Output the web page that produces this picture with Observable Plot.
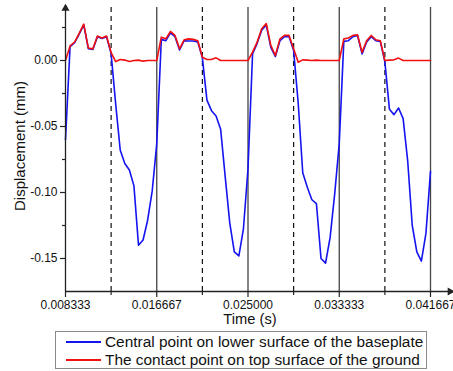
<!DOCTYPE html>
<html>
<head>
<meta charset="utf-8">
<script src="https://cdn.jsdelivr.net/npm/d3@7"></script>
<script src="https://cdn.jsdelivr.net/npm/@observablehq/plot@0.6"></script>
<style>
  html, body { margin: 0; padding: 0; background: #fff; }
  #wrap { position: relative; width: 453px; height: 371px; overflow: hidden; font-family: "Liberation Sans", Arial, sans-serif; }
  #legend { position: absolute; left: 55px; top: 331px; width: 370px; height: 36px; border: 1px solid #8a8a8a; background: #fff; }
  .row { position: absolute; left: 0; height: 18px; display: flex; align-items: center; font-size: 15.4px; color: #111; white-space: nowrap; }
  .sw { display: inline-block; width: 35px; height: 0; border-top: 2px solid; margin-left: 10px; margin-right: 4px; }
</style>
</head>
<body>
<div id="wrap"><div id="chart"></div><div id="legend"></div></div>
<script>
// Time (s)
const time = [0.008333,0.008750,0.009167,0.009583,0.010000,0.010417,0.010833,0.011250,0.011667,0.012083,
  0.012500,0.012917,0.013333,0.013750,0.014167,0.014583,0.015000,0.015417,0.015833,0.016250,
  0.016667,0.017083,0.017500,0.017917,0.018333,0.018750,0.019167,0.019583,0.020000,0.020417,
  0.020833,0.021250,0.021667,0.022083,0.022500,0.022917,0.023333,0.023750,0.024167,0.024583,
  0.025000,0.025417,0.025833,0.026250,0.026667,0.027083,0.027500,0.027917,0.028333,0.028750,
  0.029167,0.029583,0.030000,0.030417,0.030833,0.031250,0.031667,0.032083,0.032500,0.032917,
  0.033333,0.033750,0.034167,0.034583,0.035000,0.035417,0.035833,0.036250,0.036667,0.037083,
  0.037500,0.037917,0.038333,0.038750,0.039167,0.039583,0.040000,0.040417,0.040833,0.041250,
  0.041667];
// Central point on lower surface of the baseplate (mm)
const baseplate = [-0.060,0.0105,0.0136,0.020,0.027,0.009,0.0083,0.018,0.0167,0.018,
  0.005,-0.033,-0.068,-0.078,-0.083,-0.095,-0.140,-0.136,-0.121,-0.099,
  -0.063,0.016,0.015,0.021,0.018,0.008,0.015,0.0148,0.0148,0.014,
  0.002,-0.030,-0.038,-0.042,-0.052,-0.088,-0.123,-0.145,-0.148,-0.1275,
  -0.082,0.005,0.013,0.023,0.027,0.010,0.003,0.015,0.018,0.018,
  0.0075,-0.032,-0.085,-0.096,-0.1055,-0.1085,-0.150,-0.1535,-0.134,-0.101,
  -0.063,0.0145,0.015,0.018,0.019,0.005,0.014,0.018,0.015,0.0145,
  -0.001,-0.037,-0.041,-0.036,-0.044,-0.076,-0.125,-0.145,-0.152,-0.131,
  -0.084];
// Contact point on top surface of the ground (mm)
const ground = [0.000,0.011,0.014,0.0205,0.0275,0.0095,0.0088,0.0185,0.017,0.0185,
  0.006,-0.0008,0.0008,0.0003,-0.0008,0.0,0.0003,-0.0005,0.0,0.0,
  0.0,0.0177,0.0164,0.022,0.019,0.0089,0.0157,0.0164,0.016,0.015,
  0.0025,0.0008,0.0008,0.002,0.0,0.0,0.0,0.0,0.0,0.0,
  0.0,0.0063,0.0139,0.024,0.028,0.0114,0.0038,0.0164,0.019,0.019,
  0.0089,-0.0013,0.0005,0.0003,0.0,0.0003,0.0,0.0,0.0,0.0,
  0.0,0.0164,0.017,0.019,0.0195,0.0063,0.015,0.019,0.0157,0.015,
  0.0,0.0003,0.0005,0.0018,0.0,0.0,0.0,0.0,0.0,0.0,
  0.0];

const seriesNames = ["Central point on lower surface of the baseplate", "The contact point on top surface of the ground"];
const seriesColors = ["#1414f0", "#f01010"];
const xTicks = [0.008333, 0.016667, 0.025, 0.033333, 0.041667];
const xTickLabels = ["0.008333", "0.016667", "0.025000", "0.033333", "0.041667"];
const xMinorTicks = [0.0125, 0.020833, 0.029167, 0.0375];
const yTicks = [0, -0.05, -0.10, -0.15];
const yTickLabels = ["0.00", "-0.05", "-0.10", "-0.15"];
const yMinorTicks = [0.025, -0.025, -0.075, -0.125];
const xTitle = "Time (s)";
const yTitle = "Displacement (mm)";

const xDomain = [0.008333, 0.043767];
const yDomain = [-0.175, 0.04545];
const rows = time.map((t, i) => ({t, a: baseplate[i], b: ground[i]}));
const xLab = new Map(xTicks.map((d, i) => [d, xTickLabels[i]]));
const yLab = new Map(yTicks.map((d, i) => [d, yTickLabels[i]]));
const guideTop = 0.0402;
const axisColor = "#222";

const chart = Plot.plot({
  width: 453, height: 330,
  marginLeft: 65, marginRight: 0, marginTop: 0, marginBottom: 39,
  x: {domain: xDomain},
  y: {domain: yDomain},
  style: {fontFamily: "'Liberation Sans', Arial, sans-serif", fontSize: "12px", background: "white", color: "#111", overflow: "visible"},
  marks: [
    Plot.ruleX(xTicks.slice(1), {y1: yDomain[0], y2: guideTop, stroke: "#444", strokeWidth: 1.3}),
    Plot.ruleX(xMinorTicks, {y1: yDomain[0], y2: guideTop, stroke: "#111", strokeWidth: 1.2, strokeDasharray: "5,4"}),
    Plot.line(rows, {x: "t", y: "a", stroke: seriesColors[0], strokeWidth: 1.6}),
    Plot.line(rows, {x: "t", y: "b", stroke: seriesColors[1], strokeWidth: 1.6}),
    Plot.ruleY([yDomain[0]], {stroke: axisColor, strokeWidth: 1.3}),
    Plot.ruleX([xDomain[0]], {y1: yDomain[0], y2: 0.0415, stroke: axisColor, strokeWidth: 1.3}),
    Plot.dot([0], {x: xDomain[0], y: 0.0395, symbol: "triangle", r: 3, fill: axisColor, stroke: null}),
    Plot.dot([0], {x: 0.04345, y: yDomain[0], symbol: "triangle", r: 3, rotate: 90, fill: axisColor, stroke: null}),
    Plot.axisX({ticks: xTicks, tickSize: 6, tickPadding: 3, tickFormat: d => xLab.get(d), label: null, stroke: axisColor, strokeWidth: 1.2, fontSize: 12}),
    Plot.axisX({ticks: xMinorTicks, tickSize: 4, tickFormat: () => "", label: null, stroke: axisColor, strokeWidth: 1.2}),
    Plot.axisY({ticks: yTicks, tickSize: 5, tickPadding: 3, tickFormat: d => yLab.get(d), label: null, stroke: axisColor, strokeWidth: 1.2, fontSize: 12}),
    Plot.axisY({ticks: yMinorTicks, tickSize: 3, tickFormat: () => "", label: null, stroke: axisColor, strokeWidth: 1.2}),
    Plot.text([yTitle], {frameAnchor: "left", rotate: -90, dx: -45, textAnchor: "middle", fontSize: 15}),
    Plot.text([xTitle], {x: (xTicks[0] + xTicks[xTicks.length - 1]) / 2, frameAnchor: "bottom", dy: 32, dx: 2, textAnchor: "middle", fontSize: 14.7})
  ]
});
document.getElementById("chart").appendChild(chart);

const legend = document.getElementById("legend");
seriesNames.forEach((name, i) => {
  const row = document.createElement("div");
  row.className = "row";
  row.style.top = (1 + i * 18) + "px";
  const sw = document.createElement("span");
  sw.className = "sw";
  sw.style.borderTopColor = seriesColors[i];
  const tx = document.createElement("span");
  tx.textContent = name;
  row.appendChild(sw); row.appendChild(tx);
  legend.appendChild(row);
});
</script>
</body>
</html>
